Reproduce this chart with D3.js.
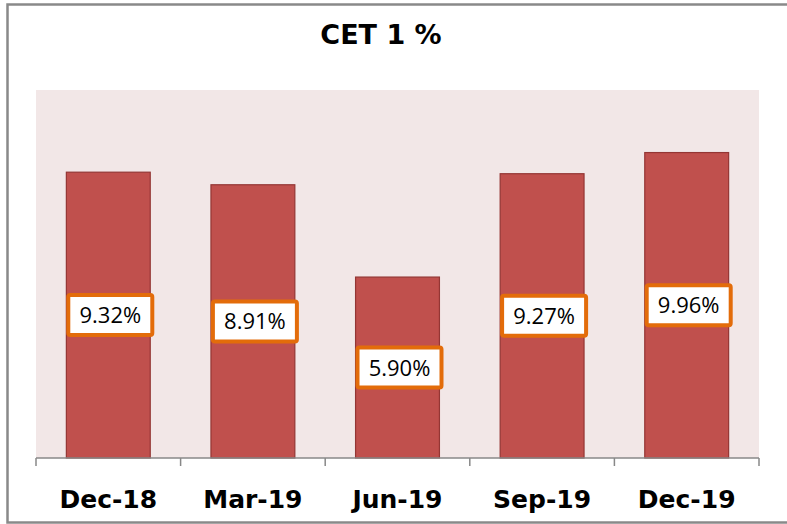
<!DOCTYPE html>
<html lang="en">
<head>
<meta charset="utf-8">
<script src="https://cdn.jsdelivr.net/npm/d3@7"></script>
<style>
  body { margin: 0; background: #fff; }
</style>
</head>
<body>
<svg width="787" height="524"></svg>
<script>
// chart data
var categories = ["Dec-18", "Mar-19", "Jun-19", "Sep-19", "Dec-19"];
var values = [9.32, 8.91, 5.90, 9.27, 9.96];
var labels = ["9.32%", "8.91%", "5.90%", "9.27%", "9.96%"];
var title = "CET 1 %";

var svg = d3.select("svg");
var plot = { left: 36, right: 759, top: 90, bottom: 458 };

// outer frame
svg.append("rect")
    .attr("x", 7.5).attr("y", 4.5)
    .attr("width", 790).attr("height", 518)
    .style("fill", "none").style("stroke", "#898989").style("stroke-width", 2.5);

// plot background
svg.append("rect")
    .attr("x", plot.left).attr("y", plot.top)
    .attr("width", plot.right - plot.left).attr("height", plot.bottom - plot.top)
    .style("fill", "#F2E7E7");

var x = d3.scaleBand()
    .domain(categories)
    .range([plot.left, plot.right])
    .paddingInner(0.42).paddingOuter(0.21);

var y = d3.scaleLinear().domain([0, 12]).range([plot.bottom, plot.top]);

// bars
svg.selectAll(".bar")
    .data(values)
    .enter().append("rect")
    .attr("class", "bar")
    .attr("x", (d, i) => x(categories[i]))
    .attr("y", d => y(d))
    .attr("width", x.bandwidth())
    .attr("height", d => y(0) - y(d))
    .style("fill", "#C0504D")
    .style("stroke", "#943634")
    .style("stroke-width", 1.2);

// x axis with ticks between categories
var band = d3.scaleLinear().domain([0, categories.length]).range([plot.left, plot.right]);
var axis = svg.append("g").attr("transform", "translate(0," + plot.bottom + ")");
axis.append("line")
    .attr("x1", plot.left).attr("x2", plot.right)
    .style("stroke", "#888").style("stroke-width", 1.5);
axis.selectAll(".tick")
    .data(d3.range(categories.length + 1))
    .enter().append("line")
    .attr("x1", d => band(d)).attr("x2", d => band(d))
    .attr("y1", 0).attr("y2", 8)
    .style("stroke", "#888").style("stroke-width", 1.5);

svg.selectAll(".cat")
    .data(categories)
    .enter().append("text")
    .attr("x", d => x(d) + x.bandwidth() / 2)
    .attr("y", 508)
    .attr("text-anchor", "middle")
    .style("font-family", "'DejaVu Sans', sans-serif")
    .style("font-weight", "bold")
    .style("font-size", "25px")
    .style("fill", "#000")
    .text(d => d);

// data labels
var lab = svg.selectAll(".lab")
    .data(values)
    .enter().append("g")
    .attr("transform", (d, i) => "translate(" + (x(categories[i]) + x.bandwidth() / 2 + 2) + "," + ((y(d) + y(0)) / 2) + ")");

lab.append("rect")
    .attr("x", -42).attr("y", -20)
    .attr("width", 84).attr("height", 40)
    .attr("rx", 2)
    .style("fill", "#fff")
    .style("stroke", "#E36C0A")
    .style("stroke-width", 4);

lab.append("text")
    .attr("y", 8)
    .attr("text-anchor", "middle")
    .style("font-family", "'Open Sans', sans-serif")
    .style("font-size", "22px")
    .style("fill", "#000")
    .text((d, i) => labels[i]);

// title
svg.append("text")
    .attr("x", 381).attr("y", 44)
    .attr("text-anchor", "middle")
    .style("font-family", "'DejaVu Sans', sans-serif")
    .style("font-weight", "bold")
    .style("font-size", "27px")
    .text(title);
</script>
</body>
</html>
